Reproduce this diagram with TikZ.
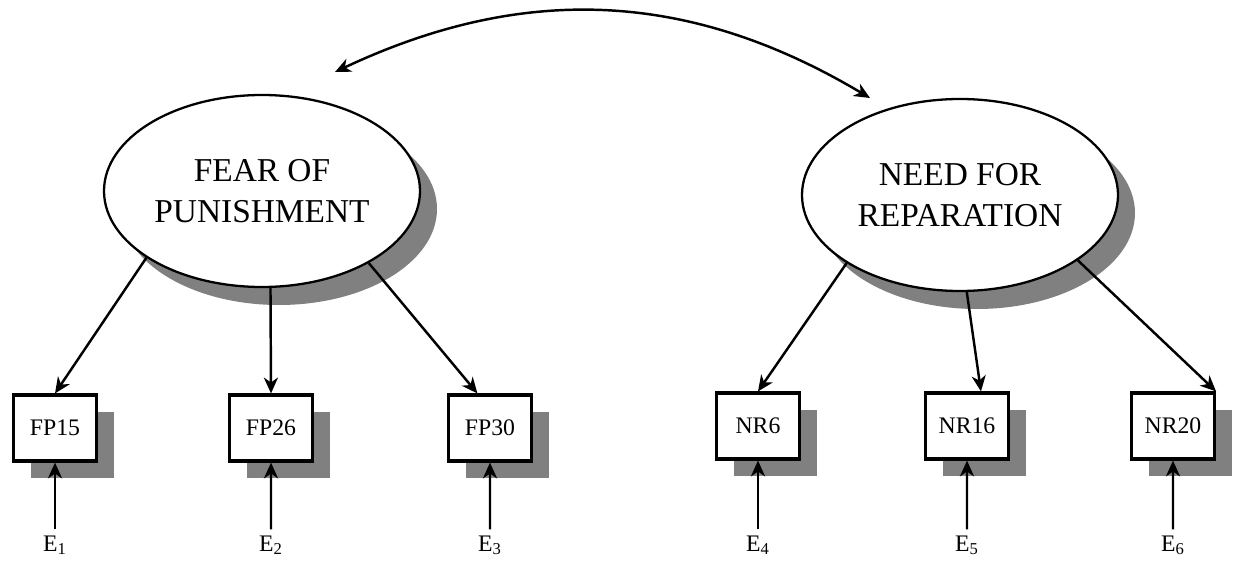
\documentclass[tikz,border=0pt]{standalone}
\usepackage{fontspec}
\setmainfont{Liberation Serif}
\usepackage{tikz}
\usetikzlibrary{positioning}
\usetikzlibrary{shapes,arrows,calc,arrows.meta,shadows}

\begin{document}
\begin{tikzpicture}[auto,
    latent/.style={draw, ellipse, line width=1.3pt, fill=white, inner sep=0pt,
      minimum width=6.32cm, minimum height=3.84cm, align=center,
      font=\fontsize{19}{23.3}\selectfont,
      drop shadow={shadow xshift=.34cm, shadow yshift=-.36cm, fill=black!50, opacity=1}},
    observed/.style={draw, rectangle, line width=1.8pt, fill=white,
      minimum width=1.66cm, minimum height=1.32cm, font=\fontsize{13.5}{16}\selectfont,
      drop shadow={shadow xshift=.34cm, shadow yshift=-.34cm, fill=black!50, opacity=1}},
    err/.style={font=\fontsize{13.5}{16}\selectfont, anchor=base},
    tip/.tip={Stealth[length=9pt, width=8pt, inset=2.8pt]},
    path/.style={-tip, line width=1.4pt}]
    \useasboundingbox (0,0) rectangle (25.08,11.22);
    % Nodes
    \node [latent] (fear) at (5.24,7.40) {FEAR OF\\PUNISHMENT};
    \node [latent] (need) at (19.20,7.32) {NEED FOR\\REPARATION};

    \node [observed] (fp15) at (1.10,2.66) {FP15};
    \node [observed, right of=fp15, node distance=4.32cm] (fp26) {FP26};
    \node [observed, right of=fp26, node distance=4.38cm] (fp30) {FP30};

    \node [observed] (nr6) at (15.16,2.70) {NR6};
    \node [observed, right of=nr6, node distance=4.18cm] (nr16) {NR16};
    \node [observed, right of=nr16, node distance=4.12cm] (nr20) {NR20};

    \node [err] (e1) at (1.10,0.2) {E\textsubscript{1}};
    \node [err] (e2) at (5.42,0.2) {E\textsubscript{2}};
    \node [err] (e3) at (9.80,0.2) {E\textsubscript{3}};
    \node [err] (e4) at (15.16,0.2) {E\textsubscript{4}};
    \node [err] (e5) at (19.34,0.2) {E\textsubscript{5}};
    \node [err] (e6) at (23.46,0.2) {E\textsubscript{6}};

    \coordinate (covL) at (6.70,9.78);
    \coordinate (covR) at (17.40,9.26);
    % Arrows
    \draw [path, tip-tip] (covL) to[bend left=28] (covR);

    \draw [path] (fear.210) -- (fp15.north);
    \draw [path] (fear.275) -- (fp26.north);
    \draw [path] (fear.326) -- (fp30.110);
    \draw [path] (need.211) -- (nr6.north);
    \draw [path] (need.274) -- (nr16.68);
    \draw [path] (need.331) -- (nr20.north east);

    \draw [path] (e1) -- (fp15);
    \draw [path] (e2) -- (fp26);
    \draw [path] (e3) -- (fp30);
    \draw [path] (e4) -- (nr6);
    \draw [path] (e5) -- (nr16);
    \draw [path] (e6) -- (nr20);
  \end{tikzpicture}
\end{document}
